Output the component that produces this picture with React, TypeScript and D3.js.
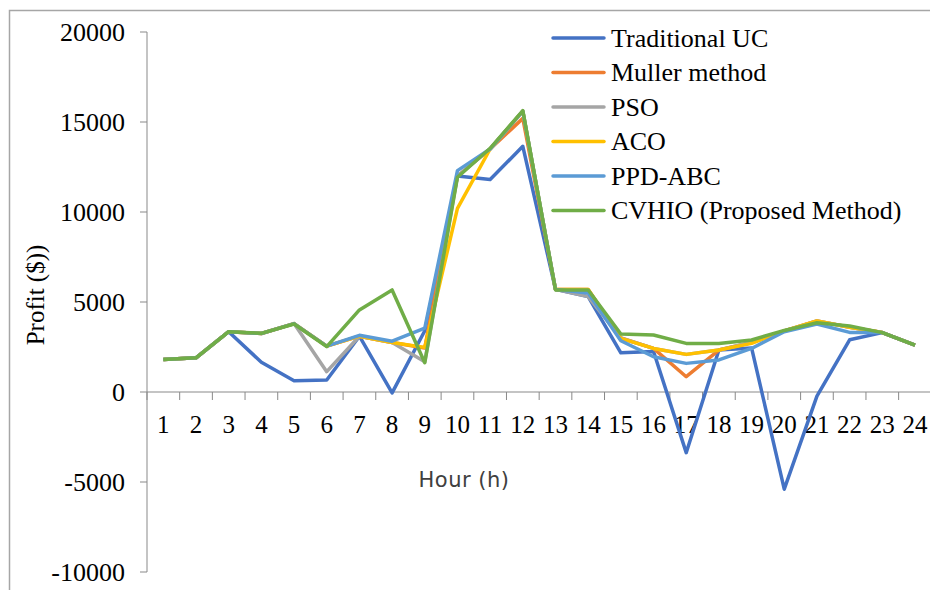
import * as d3 from "d3";

const hours = d3.range(1, 25).map(String);
const yTicks = [20000, 15000, 10000, 5000, 0, -5000, -10000];

const seriesNames = [
  "Traditional UC",
  "Muller method",
  "PSO",
  "ACO",
  "PPD-ABC",
  "CVHIO (Proposed Method)",
];
const seriesColors = ["#4472C4", "#ED7D31", "#A5A5A5", "#FFC000", "#5B9BD5", "#70AD47"];

const traditionalUC = [1800, 1900, 3350, 1650, 630, 670, 3100, -50, 3400, 12000, 11800, 13650, 5700, 5300, 2180, 2250, -3370, 2330, 2450, -5400, -230, 2900, 3300, 2600];
const muller = [1800, 1900, 3350, 3250, 3800, 2550, 3100, 2750, 2450, 12000, 13500, 15200, 5700, 5700, 3000, 2420, 850, 2330, 2750, 3400, 3950, 3600, 3300, 2600];
const pso = [1800, 1900, 3350, 3250, 3800, 1130, 3100, 2750, 1680, 12000, 13500, 15600, 5700, 5300, 3000, 2420, 2090, 2330, 2750, 3400, 3950, 3600, 3300, 2600];
const aco = [1800, 1900, 3350, 3250, 3800, 2550, 3100, 2750, 2480, 10200, 13500, 15600, 5700, 5700, 2980, 2420, 2090, 2330, 2700, 3400, 3950, 3600, 3300, 2600];
const ppdAbc = [1800, 1900, 3350, 3250, 3800, 2550, 3150, 2820, 3550, 12300, 13500, 15600, 5700, 5500, 2850, 1960, 1590, 1780, 2420, 3350, 3780, 3310, 3300, 2600];
const cvhio = [1800, 1900, 3350, 3260, 3780, 2520, 4560, 5670, 1630, 11930, 13540, 15630, 5670, 5670, 3220, 3170, 2700, 2700, 2890, 3420, 3850, 3670, 3300, 2600];

const seriesValues = [traditionalUC, muller, pso, aco, ppdAbc, cvhio];

export default function App() {
  const width = 930;
  const height = 590;
  const left = 147;
  const step = 32.68;

  const x = d3
    .scaleBand<string>()
    .domain(hours)
    .range([left, left + step * hours.length])
    .padding(0);

  const y = d3.scaleLinear().domain([-10000, 20000]).range([572, 32]);

  const line = d3
    .line<number>()
    .x((_, i) => x(hours[i])! + x.bandwidth() / 2)
    .y((d) => y(d));

  const axisColor = "#898989";
  const y0 = y(0);

  return (
    <svg
      width={width}
      height={height}
      style={{ position: "absolute", left: 0, top: 0, background: "#fff" }}
    >
      <rect x={9.5} y={10.5} width={width} height={height} fill="#fff" stroke="#a6a6a6" strokeWidth={1.5} />

      {/* y axis */}
      <line x1={left} x2={left} y1={y(20000)} y2={y(-10000)} stroke={axisColor} strokeWidth={1} />
      {yTicks.map((t) => (
        <g key={t}>
          <line x1={left - 7} x2={left} y1={y(t)} y2={y(t)} stroke={axisColor} />
          <text
            x={125}
            y={y(t)}
            dy="0.33em"
            textAnchor="end"
            fontFamily="'Liberation Serif', 'Times New Roman', serif"
            fontSize={26}
            fill="#000"
          >
            {t}
          </text>
        </g>
      ))}

      {/* x axis at zero */}
      <line x1={left} x2={left + step * hours.length} y1={y0} y2={y0} stroke={axisColor} />
      {d3.range(hours.length + 1).map((i) => (
        <line key={i} x1={left + i * step} x2={left + i * step} y1={y0} y2={y0 + 8} stroke={axisColor} />
      ))}
      {hours.map((h) => (
        <text
          key={h}
          x={x(h)! + x.bandwidth() / 2}
          y={y0 + 41}
          textAnchor="middle"
          fontFamily="'Liberation Serif', 'Times New Roman', serif"
          fontSize={25}
          fill="#000"
        >
          {h}
        </text>
      ))}

      <text
        x={464}
        y={487}
        textAnchor="middle"
        fontFamily="'DejaVu Sans', sans-serif"
        fontSize={21}
        fill="#404040"
        letterSpacing={0.5}
      >
        Hour (h)
      </text>

      <text
        transform={`translate(44,295) rotate(-90)`}
        textAnchor="middle"
        fontFamily="'Liberation Serif', 'Times New Roman', serif"
        fontSize={25}
        fill="#000"
      >
        Profit ($))
      </text>

      {/* series */}
      {seriesValues.map((vals, i) => (
        <path
          key={seriesNames[i]}
          d={line(vals)!}
          fill="none"
          stroke={seriesColors[i]}
          strokeWidth={3.5}
          strokeLinejoin="round"
        />
      ))}

      {/* legend */}
      {seriesNames.map((name, i) => {
        const ly = 38 + i * 34.5;
        return (
          <g key={name}>
            <line x1={553} x2={604} y1={ly} y2={ly} stroke={seriesColors[i]} strokeWidth={3.5} strokeLinecap="round" />
            <text
              x={611}
              y={ly}
              dy="0.33em"
              fontFamily="'Liberation Serif', 'Times New Roman', serif"
              fontSize={26}
              fill="#000"
            >
              {name}
            </text>
          </g>
        );
      })}
    </svg>
  );
}
